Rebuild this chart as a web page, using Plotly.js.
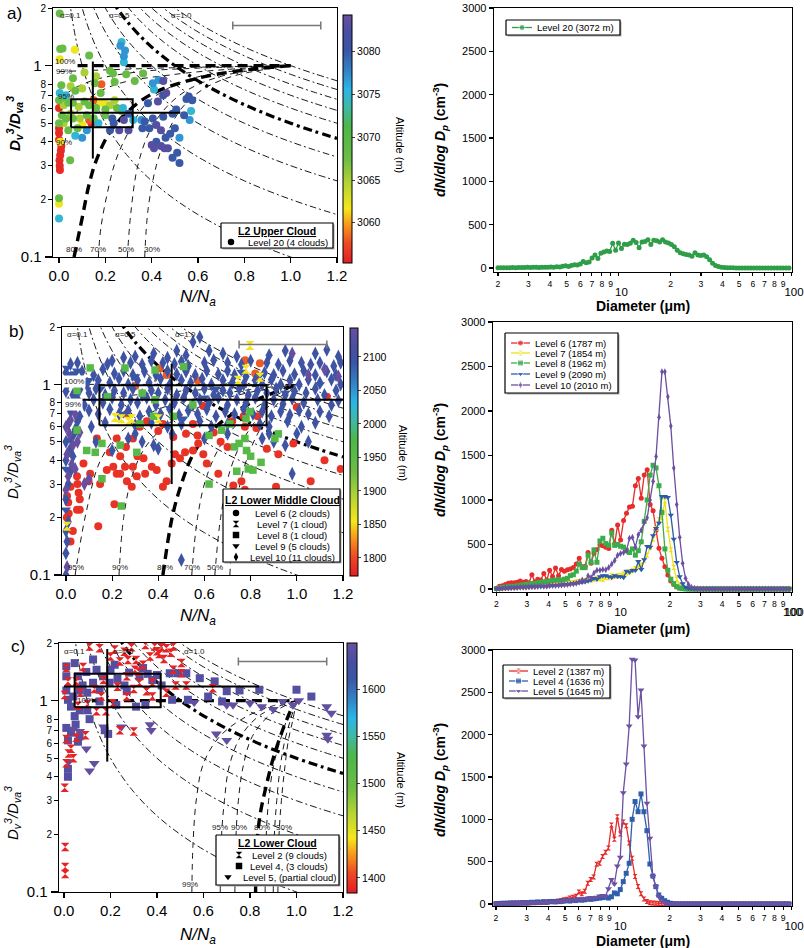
<!DOCTYPE html>
<html><head><meta charset="utf-8">
<script src="https://cdn.plot.ly/plotly-3.0.1.min.js"></script>
<style>body{margin:0;background:#fff}#chart{width:804px;height:948px}</style>
</head><body><div id="chart"></div>
<script>
// ================= SIZE DISTRIBUTIONS (right panels) =================
const diameter = [2.00,2.08,2.16,2.25,2.34,2.43,2.53,2.63,2.74,2.85,
  2.96,3.08,3.20,3.33,3.46,3.60,3.75,3.90,4.05,4.21,
  4.38,4.56,4.74,4.93,5.13,5.33,5.55,5.77,6.00,6.24,
  6.49,6.75,7.02,7.30,7.59,7.90,8.21,8.54,8.88,9.24,
  9.61,9.99,10.39,10.81,11.24,11.69,12.16,12.64,13.15,13.67,
  14.22,14.79,15.38,16.00,16.64,17.30,17.99,18.71,19.46,20.24,
  21.05,21.89,22.77,23.68,24.62,25.61,26.63,27.70,28.81,29.96,
  31.16,32.40,33.70,35.05,36.45,37.91,39.42,41.00,42.64,44.35,
  46.12,47.97,49.89,51.88,53.96,56.12,58.36,60.70,63.12,65.65,
  68.27,71.00,73.84,76.80,79.87,83.07,86.39,89.85,93.44,97.18];
const level20 = [2,3,2,4,3,5,4,6,5,6, 8,6,9,10,7,9,8,10,12,9, 15,12,20,25,18,30,38,35,45,75,
  60,70,115,150,110,170,185,195,190,285, 205,290,225,275,270,285,320,295,235,300,
  305,325,270,320,315,300,325,300,290,270, 245,205,175,165,155,150,135,175,150,145,
  150,130,95,55,30,18,10,5,3,2, 2,1,1,1,1,0,0,0,0,0, 0,0,0,0,0,0,0,0,0,0];
const level6 = [5,30,35,50,65,70,70,75,90,75, 85,70,160,80,110,100,175,100,210,140,
  235,150,220,200,215,225,240,280,345,250, 255,410,290,400,440,495,485,470,455,660,
  510,720,550,770,850,920,930,1160,1240,1020, 1280,1340,950,880,660,457,345,250,157,90,
  50,25,12,5,2,1,0,0,0,0, 0,0,0,0,0,0,0,0,0,0, 0,0,0,0,0,0,0,0,0,0, 0,0,0,0,0,0,0,0,0,0];
const level7 = [2,8,10,12,15,18,20,22,25,25, 28,30,32,35,38,40,42,45,48,50,
  55,52,60,58,65,70,72,80,85,90, 95,100,105,110,120,115,110,130,125,150,
  140,150,155,170,180,190,210,230,250,270, 320,380,470,560,680,780,800,990,670,440,
  240,110,40,15,5,2,0,0,0,0, 0,0,0,0,0,0,0,0,0,0, 0,0,0,0,0,0,0,0,0,0, 0,0,0,0,0,0,0,0,0,0];
const level8 = [5,10,15,20,25,30,28,35,40,45, 50,55,60,58,70,75,80,85,90,95,
  100,105,100,110,120,150,160,200,280,240, 240,380,300,440,300,540,570,510,490,630,
  490,500,480,470,430,410,450,380,430,530, 760,1000,1280,1390,1360,1160,860,450,210,110,
  60,25,10,4,1,0,0,0,0,0, 0,0,0,0,0,0,0,0,0,0, 0,0,0,0,0,0,0,0,0,0, 0,0,0,0,0,0,0,0,0,0];
const level9 = [2,5,8,10,10,12,15,15,18,20, 20,22,25,25,28,30,30,32,35,38,
  40,42,45,48,50,55,60,65,70,75, 80,90,100,120,110,140,150,150,140,130,
  150,140,140,130,200,190,210,210,310,220, 330,480,470,600,680,740,1040,1040,1030,830,
  560,300,140,60,20,8,3,1,0,0, 0,0,0,0,0,0,0,0,0,0, 0,0,0,0,0,0,0,0,0,0, 0,0,0,0,0,0,0,0,0,0];
const level10 = [3,5,8,10,12,14,15,16,18,20, 20,22,25,25,28,30,30,32,35,38,
  40,42,45,48,50,55,60,65,80,100, 90,150,130,180,210,210,220,215,240,280,
  320,380,400,410,430,570,580,470,610,660, 750,800,1000,1210,1490,1930,2440,2440,2160,1830,
  1360,950,580,290,120,50,20,8,3,1, 0,0,0,0,0,0,0,0,0,0, 0,0,0,0,0,0,0,0,0,0, 0,0,0,0,0,0,0,0,0,0];
const level2 = [3,5,5,8,6,10,8,12,10,12, 15,12,18,15,20,18,22,20,25,28,
  30,35,40,50,55,70,80,90,140,120, 150,245,290,320,470,480,560,610,660,933,
  764,1031,827,968,925,720,540,323,205,120, 60,30,15,10,8,5,3,2,1,0,
  0,0,0,0,0,0,0,0,0,0, 0,0,0,0,0,0,0,0,0,0, 0,0,0,0,0,0,0,0,0,0, 0,0,0,0,0,0,0,0,0,0];
const level4 = [2,5,8,6,10,8,12,10,12,15, 12,15,20,18,22,20,25,22,28,30,
  25,28,30,35,40,35,45,40,50,45, 50,60,55,60,65,70,75,80,70,85,
  130,120,170,264,362,480,1000,1210,1090,1300, 1090,866,472,330,205,106,67,39,20,8,
  3,1,0,0,0,0,0,0,0,0, 0,0,0,0,0,0,0,0,0,0, 0,0,0,0,0,0,0,0,0,0, 0,0,0,0,0,0,0,0,0,0];
const level5 = [3,4,5,6,7,8,9,10,10,12, 12,14,15,16,17,18,20,20,22,25,
  25,28,30,35,45,40,50,45,60,55, 65,60,75,70,80,95,100,90,180,290,
  236,449,551,1315,1654,2102,2890,2882,2212,2527, 1866,1189,775,323,205,87,40,15,5,2,
  0,0,0,0,0,0,0,0,0,0, 0,0,0,0,0,0,0,0,0,0, 0,0,0,0,0,0,0,0,0,0, 0,0,0,0,0,0,0,0,0,0];

// ================= MIXING DIAGRAMS (left panels): [N/Na, Dv3/Dva3] =================
// Panel a, Level 20, grouped by altitude (m)
const upperAlt = [3056,3058,3062,3065,3068,3075,3077,3080,3083];
const upper3056 = [[0,0.6],[0.14,0.5],[0,0.47],[0.008,0.36],[0.005,0.34],[0.003,0.30],[0.004,0.285],[0,0.41],[0.01,0.38],[0,0.445],[0.002,0.32]];
const upper3058 = [[0.183,0.80],[0.15,0.66],[0.13,0.52]];
const upper3062 = [[0.068,1.21],[0.003,1.08],[0.18,0.64],[0.1,0.49],[0.005,0.4],[0,0.19],[0.2,0.63]];
const upper3065 = [[0.11,0.92],[0.1,0.76],[0.05,0.78],[0.02,0.62],[0.05,0.56],[0.085,0.61],[0.22,0.62],[0.09,0.53],[0.02,0.5],[0.16,0.88],[0.24,0.66]];
const upper3068 = [[0.003,1.87],[0.005,1.22],[0.015,1.23],[0.13,1.13],[0.155,0.81],[0.233,0.91],[0.24,0.82],[0.327,0.83],[0.363,0.91],[0.29,0.9],[0.22,0.94],[0.06,0.86],[0.01,0.79],[0.07,0.74],[0.015,0.68],[0.04,0.64],[0,0.66],[0.012,0.55],[0.03,0.53],[0,0.5],[0.06,0.64],[0.11,0.65],[0.13,0.62],[0.16,0.6],[0.2,0.59],[0.25,0.6],[0.27,0.58],[0.12,0.55],[0.15,0.53],[0.06,0.53],[0.2,0.55],[0.08,0.47],[0.04,0.46],[0.18,0.72],[0.048,0.32],[0,0.203]];
const upper3075 = [[0.27,1.33],[0.28,1.04],[0.41,0.75],[0.003,0.72],[0.17,0.5],[0.276,0.6],[0.32,0.52],[0.57,0.58],[0,0.159],[0.03,0.7],[0.07,0.43]];
const upper3077 = [[0.285,1.2],[0.28,1.12],[0.265,1.27],[0.405,0.81],[0.43,0.84],[0.12,0.46],[0.1,0.42],[0.355,0.52],[0.564,0.52],[0.52,0.42]];
const upper3080 = [[0.22,0.46],[0.236,0.5],[0.3,0.56],[0.23,0.53],[0.384,0.635],[0.45,0.7],[0.506,0.59],[0.55,0.67],[0.56,0.69],[0.575,0.66],[0.54,0.55],[0.49,0.56],[0.45,0.54],[0.405,0.53],[0.37,0.51],[0.39,0.47],[0.49,0.33],[0.52,0.31],[0.51,0.35],[0.42,0.4],[0.48,0.44],[0.5,0.47],[0.36,0.47],[0.46,0.42]];
const upper3083 = [[0.26,0.46],[0.3,0.46],[0.28,0.52],[0.427,0.65],[0.463,0.72],[0.45,0.83],[0.42,0.49],[0.44,0.46],[0.44,0.38],[0.455,0.37],[0.47,0.37],[0.40,0.385],[0.41,0.37]];
const upperGroups = [upper3056,upper3058,upper3062,upper3065,upper3068,upper3075,upper3077,upper3080,upper3083];

// Panel b: Level 6 (red + orange), 7, 8, 9, 10
const midAlt = {l6:1787, l6b:1808, l7:1854, l8:1962, l9:2090, l10:2100, l10b:2140};
const midL6 = [[0.134,0.52],[0.22,0.52],[0.29,0.52],[0.32,0.60],[0.40,0.57],[0.465,0.53],[0.52,0.55],[0.57,0.54],[0.64,0.56],[0.72,0.64],[0.775,0.60],[0.825,0.59],[1.13,0.86],[1.19,0.36],[0.048,0.33],[0.05,0.30],[0.055,0.27],[0.06,0.25],[0.048,0.22],[0.012,0.21],[0.004,0.20],[0.02,0.15],[0.14,0.18],[0.06,0.22],[0.105,0.34],[0.098,0.31],[0.148,0.30],[0.205,0.37],[0.22,0.34],[0.235,0.34],[0.256,0.37],[0.264,0.31],[0.285,0.29],[0.29,0.37],[0.307,0.33],[0.336,0.41],[0.343,0.34],[0.372,0.37],[0.393,0.355],[0.42,0.29],[0.436,0.31],[0.458,0.385],[0.472,0.43],[0.494,0.41],[0.516,0.44],[0.55,0.45],[0.573,0.49],[0.595,0.43],[0.61,0.385],[0.66,0.34],[0.725,0.295],[0.76,0.31],[0.775,0.28],[0.825,0.257],[0.91,0.29],[0.985,0.49],[1.06,0.31],[1.12,0.40],[0.076,0.385],[0.177,0.355],[0.19,0.44],[0.235,0.42],[0.26,0.47],[0.31,0.42],[0.21,0.235],[1.0,0.76],[0.83,0.68],[0.77,0.68],[0.595,0.77],[0.263,0.70],[0.35,0.64],[0.42,0.62],[0.55,0.62],[0.005,0.26],[0.01,0.24],[0.02,0.29],[0.92,0.43],[0.87,0.46],[0.7,0.47],[0.67,0.5],[0.03,0.17]];
const midL6b = [[0.407,1.21],[0.436,1.12],[0.776,1.34],[0.84,1.29],[0.82,1.14],[0.57,1.05],[0.3,0.98]];
const midL7 = [[0.797,1.6],[0.746,1.05],[0.84,1.09],[0.78,1.2],[0.213,0.67],[0.24,0.66],[0.285,0.66],[0.40,0.66],[0.004,0.18],[0.27,0.64]];
const midL8 = [[0.048,0.575],[0.09,0.45],[0.127,0.44],[0.156,0.49],[0.156,0.32],[0.235,0.48],[0.24,0.23],[0.307,0.44],[0.32,0.62],[0.386,0.83],[0.386,1.19],[0.256,1.22],[0.105,1.22],[0.62,0.54],[0.62,0.30],[0.674,0.575],[0.73,0.47],[0.75,0.49],[0.775,0.52],[0.782,0.45],[0.79,0.36],[0.74,0.35],[0.80,0.42],[0.845,0.39],[0.81,0.355],[0.905,0.52],[0.92,0.55],[0.78,0.66],[0.797,0.72],[0.38,0.68],[0.465,0.68],[0.71,0.62],[0.51,1.24],[0.048,0.93],[0.33,0.9],[0.55,0.78],[0.18,0.86]];
const midL9 = [[0.048,1.18],[0.004,1.22],[0.012,1.03],[0.039,1.14],[0.02,1.13],[0.508,0.66],[0.84,1.12],[0.76,1.16],[0.248,0.70],[0,0.22],[0.1,1.05],[0.3,1.1],[0.65,0.95],[0.95,0.9],[1.1,1.0],[0.45,0.75],[0.6,0.85],[0.72,1.0],[0,0.36],[0.15,0.95]];
const midL10 = [[0.38,1.45],[0.48,1.5],[0.52,1.42],[0.55,1.67],[0.58,1.77],[0.62,1.5],[0.68,1.45],[0.74,1.4],[0.88,1.42],[0.95,1.5],[1.08,1.45],[1.13,1.52],[1.18,1.4],[0.25,1.38],[0.3,1.4],[0.44,1.38],
 [0.02,1.28],[0.05,1.3],[0.18,1.28],[0.2,1.33],[0.28,1.3],[0.33,1.27],[0.37,1.33],[0.42,1.3],[0.47,1.28],[0.5,1.32],[0.53,1.25],[0.6,1.3],[0.64,1.34],[0.7,1.3],[0.76,1.27],[0.8,1.33],[0.87,1.3],[0.92,1.27],[0.97,1.33],[1.02,1.3],[1.06,1.27],[1.1,1.3],[1.16,1.25],[1.19,1.3],
 [0,1.15],[0.07,1.17],[0.12,1.12],[0.16,1.2],[0.21,1.14],[0.25,1.18],[0.29,1.12],[0.34,1.17],[0.39,1.12],[0.44,1.18],[0.48,1.13],[0.52,1.17],[0.56,1.12],[0.61,1.18],[0.66,1.13],[0.7,1.18],[0.73,1.12],[0.78,1.1],[0.86,1.15],[0.9,1.12],[0.94,1.18],[0.99,1.13],[1.03,1.18],[1.08,1.12],[1.13,1.17],[1.17,1.12],
 [0.01,1.02],[0.04,1.06],[0.09,1.0],[0.14,1.05],[0.19,1.02],[0.23,1.07],[0.27,1.0],[0.31,1.05],[0.36,1.02],[0.41,1.07],[0.45,1.0],[0.5,1.05],[0.54,1.02],[0.59,1.07],[0.63,1.0],[0.68,1.05],[0.72,1.02],[0.77,1.0],[0.82,1.05],[0.85,1.0],[0.89,1.06],[0.93,1.0],[0.97,1.05],[1.01,1.0],[1.05,1.06],[1.1,1.02],[1.15,1.06],[1.19,1.0],
 [0,0.92],[0.03,0.88],[0.06,0.94],[0.1,0.9],[0.13,0.95],[0.17,0.88],[0.21,0.93],[0.25,0.9],[0.29,0.95],[0.33,0.88],[0.37,0.93],[0.4,0.9],[0.44,0.95],[0.48,0.88],[0.52,0.93],[0.56,0.9],[0.6,0.95],[0.64,0.88],[0.68,0.93],[0.71,0.9],[0.75,0.95],[0.79,0.88],[0.83,0.93],[0.87,0.9],[0.91,0.95],[0.95,0.88],[0.99,0.92],[1.04,0.9],[1.08,0.95],[1.12,0.88],[1.17,0.93],
 [0.01,0.8],[0.05,0.84],[0.08,0.78],[0.12,0.83],[0.16,0.8],[0.2,0.85],[0.24,0.78],[0.28,0.83],[0.31,0.8],[0.35,0.85],[0.39,0.78],[0.43,0.83],[0.47,0.8],[0.51,0.85],[0.55,0.78],[0.58,0.83],[0.62,0.8],[0.66,0.85],[0.7,0.78],[0.74,0.83],[0.78,0.8],[0.82,0.85],[0.86,0.78],[0.9,0.83],[0.94,0.79],[0.98,0.84],[1.03,0.8],[1.09,0.83],[1.15,0.78],[1.18,0.82],
 [0.02,0.72],[0.06,0.68],[0.1,0.73],[0.14,0.7],[0.19,0.74],[0.23,0.7],[0.27,0.73],[0.32,0.68],[0.36,0.72],[0.41,0.7],[0.45,0.74],[0.49,0.69],[0.53,0.73],[0.57,0.7],[0.61,0.74],[0.65,0.68],[0.69,0.72],[0.73,0.7],[0.77,0.74],[0.81,0.7],[0.85,0.72],[0.89,0.68],[0.93,0.72],[0.97,0.69],[1.01,0.73],[1.05,0.7],[1.1,0.72],[1.14,0.68],
 [0.01,0.62],[0.05,0.64],[0.11,0.6],[0.17,0.63],[0.3,0.61],[0.37,0.63],[0.44,0.6],[0.5,0.62],[0.58,0.64],[0.63,0.6],[0.7,0.62],[0.84,0.62],[0.88,0.6],[0.96,0.64],[1.02,0.6],[1.08,0.63],
 [0.13,0.5],[0.2,0.45],[0.27,0.52],[0.38,0.48],[0.6,0.52],[0.85,0.52],[0.88,0.55],[0.9,0.5],[0.95,0.48],[1.0,0.55],[1.05,0.5],[0.98,0.34],[0.5,0.12],[0.3,0.55],[0.33,0.5],[0.4,0.46],[0.46,0.55],[0.7,0.55],
 [0,0.1],[0,0.13],[0.005,0.15],[0,0.17],[0.01,0.19],[0,0.25],[0.01,0.3],[0.02,0.35],[0,0.4],[0.03,0.42],[0.015,0.45],[0,0.5],[0.02,0.52],[0.035,0.55],[0.04,0.58]];
const midL10b = [[0.005,0.11],[0,0.28],[0.01,0.33],[0.025,0.38],[0.005,0.43],[0.03,0.48],[0.015,0.55],[0.05,0.5],[0.06,0.56],[0.1,0.32],[0.08,0.3],[0.04,0.36],[1.05,1.12],[1.12,1.2],[1.18,1.1],[0.98,1.45],[0,0.6],[0.02,0.65],[0.04,0.7]];

// Panel c: Levels 2, 4, 5
const lowAlt = {l2:1387, l4:1636, l5:1645};
const lowL2 = [[0.11,1.92],[0.153,1.88],[0.218,1.85],[0.26,1.8],[0.275,1.63],[0.31,1.63],[0.34,1.54],[0.37,1.70],[0.39,1.92],[0.40,1.81],[0.41,1.75],[0.42,1.9],[0.44,1.88],[0.47,1.92],[0.46,1.78],[0.505,1.57],[0.505,1.39],[0.305,1.45],[0.32,1.42],[0.27,1.34],[0.23,1.18],[0.17,1.28],[0.21,0.97],[0.325,1.24],[0.355,1.12],[0.38,1.24],[0.017,1.26],[0.003,1.07],[0.01,1.48],[0.082,1.5],[0.053,1.26],[0.06,0.94],[0.1,0.96],[0.14,0.88],[0.18,0.88],[0.27,1.05],[0.3,0.69],[0.053,0.64],[0.01,0.63],[0.092,0.66],[0.02,0.53],[0.01,0.47],[0.003,0.35],[0.005,0.172],[0.005,0.135],[0.005,0.124],[0.64,1.16],[0.526,1.2],[0.47,1.45],[0.2,1.7],[0.24,1.6],[0.29,1.9],[0.35,1.95],[0.43,1.65],[0.48,1.2],[0.44,1.1],[0.38,1.05],[0.3,1.15],[0.13,1.15],[0.07,1.1],[0.16,1.05],[0.03,0.56],[0.04,0.5],[0.24,0.7]];
const lowL4 = [[0.01,1.51],[0.046,1.57],[0.01,1.34],[0.06,1.34],[0.096,1.41],[0.125,1.64],[0.168,1.34],[0.218,1.54],[0.196,1.24],[0.125,1.24],[0.067,1.13],[0.01,1.13],[0.017,1.01],[0.03,0.93],[0.046,0.83],[0.067,0.89],[0.1,0.89],[0.1,1.1],[0.153,1.14],[0.153,0.99],[0.27,1.12],[0.325,1.34],[0.34,1.48],[0.4,1.36],[0.455,1.39],[0.49,1.39],[0.526,1.39],[0.584,1.31],[0.648,1.26],[0.7,1.12],[0.755,1.13],[0.84,1.14],[1.0,1.14],[1.064,1.05],[0.465,1.01],[0.533,1.01],[0.31,0.93],[0.225,0.95],[0.01,0.72],[0.017,0.62],[0.06,0.61],[0.017,0.44],[0.017,0.40],[0.067,0.65],[0.19,0.67],[0.175,0.70],[0.2,1.45],[0.23,1.3],[0.28,1.4],[0.38,1.28],[0.42,1.2],[0.36,1.38],[0.26,1.2],[0.14,1.45],[0.08,1.2],[0.04,1.05],[0.11,0.8],[0.35,0.95],[0.62,1.05],[0.68,0.99],[0.05,0.75],[0.03,0.68]];
const lowL5 = [[0.067,0.69],[0.096,0.56],[0.11,0.43],[0.13,0.47],[0.247,0.73],[0.37,0.75],[0.375,0.7],[0.655,0.67],[0.70,0.62],[0.70,0.95],[0.727,0.95],[0.94,0.99],[0.985,0.95],[1.01,1.0],[1.13,0.93],[1.15,0.86],[1.13,0.66],[1.135,0.63],[0.56,0.98],[0.8,0.97],[0.85,0.93],[0.9,0.9],[0.04,0.71],[0.17,0.73],[0.02,0.48]];

// Mean box (25-75%) and cross (mean +/- sd) per panel
const boxUpper = [0.052,0.318,0.476,0.667], crossUpper = [0.146,0.327,1.05,0.568,0.004,0.523];
const boxMid   = [0.145,0.869,0.61,0.99],   crossMid   = [0.458,0.30,1.28,0.83,0,1.2];
const boxLow   = [0.046,0.416,0.924,1.38],  crossLow   = [0.186,0.48,1.86,1.186,0,0.839];
const errUpper = [0.94,1.62,0.19], errMid = [0.94,1.62,0.19], errLow = [0.94,1.60,0.19];

// Adiabatic-fraction isolines (alpha = N/Na * Dv3/Dva3)
const alphaLines = [0.1,0.2,0.3,0.4,0.5,0.6,0.7,0.8,0.9,1.0];
const alphaThick = 0.5;
const alphaX = [0.045,0.05,0.055,0.06,0.065,0.07,0.08,0.09,0.1,0.11,0.12,0.14,0.16,0.18,0.2,0.22,0.25,0.28,0.3,0.35,0.4,0.45,0.5,0.55,0.6,0.7,0.8,0.9,1.0,1.1,1.2];

// Homogeneous mixing curves for entrained-air RH
const homRH = ['100%','99%','95%','90%','80%','70%','50%','30%'];
const homUpperX = [[0.08,1.0],[0,0.2,0.5,1.0],[0,0.05,0.15,0.35,0.6,1.0],[0.005,0.05,0.12,0.25,0.5,0.75,1.0],[0.065,0.10,0.13,0.165,0.22,0.3,0.4,0.55,0.75,1.0],[0.17,0.18,0.21,0.245,0.3,0.37,0.47,0.61,0.8,1.0],[0.295,0.31,0.34,0.39,0.46,0.55,0.7,1.0],[0.37,0.385,0.42,0.47,0.53,0.62,0.75,1.0]];
const homUpperY = [[1,1],[0.93,0.95,0.975,1.0],[0.65,0.74,0.84,0.93,0.97,1.0],[0.3,0.5,0.66,0.8,0.9,0.96,1.0],[0.1,0.16,0.24,0.33,0.45,0.58,0.71,0.83,0.93,1.0],[0.1,0.14,0.22,0.32,0.45,0.62,0.76,0.88,0.95,1.0],[0.1,0.17,0.3,0.45,0.6,0.74,0.88,1.0],[0.1,0.18,0.3,0.45,0.6,0.75,0.88,1.0]];
const homMidX = [[0,1.0],[0,0.3,0.6,1.0],[0.04,0.05,0.09,0.15,0.25,0.4,0.6,0.8,1.0],[0.23,0.25,0.29,0.35,0.45,0.6,0.8,1.0],[0.42,0.46,0.5,0.56,0.65,0.8,1.0],[0.545,0.57,0.61,0.68,0.8,1.0],[0.645,0.67,0.71,0.77,0.87,1.0],[0.71,0.73,0.77,0.83,0.9,1.0]];
const homMidY = [[1,1],[0.8,0.88,0.94,1.0],[0.1,0.12,0.22,0.4,0.58,0.74,0.86,0.94,1.0],[0.1,0.2,0.34,0.48,0.63,0.78,0.91,1.0],[0.1,0.2,0.3,0.45,0.6,0.8,1.0],[0.1,0.2,0.33,0.5,0.72,1.0],[0.1,0.2,0.35,0.52,0.75,1.0],[0.1,0.2,0.36,0.55,0.75,1.0]];
const homLowX = [[0.12,0.97],[0.55,0.555,0.57,0.6,0.67,0.78,0.9,1.0],[0.672,0.678,0.69,0.71,0.76,0.85,1.0],[0.735,0.74,0.75,0.77,0.81,0.89,1.0],[0.824,0.83,0.845,0.87,0.9,0.94,0.985],[0.865,0.87,0.88,0.9,0.93,0.96,1.0],[0.9,0.905,0.915,0.93,0.95,0.975,1.0],[0.92,0.925,0.935,0.95,0.965,0.985,1.0]];
const homLowY = [[1,1],[0.1,0.18,0.31,0.47,0.65,0.82,0.94,1.0],[0.1,0.2,0.3,0.45,0.65,0.85,1.0],[0.1,0.2,0.3,0.45,0.65,0.85,1.0],[0.1,0.18,0.26,0.36,0.5,0.7,0.95],[0.1,0.2,0.3,0.45,0.62,0.8,1.0],[0.1,0.2,0.3,0.45,0.62,0.8,1.0],[0.1,0.2,0.3,0.45,0.62,0.8,1.0]];

// Tick labels
const xTickVals = [0,0.2,0.4,0.6,0.8,1.0,1.2];
const xTickText = ['0.0','0.2','0.4','0.6','0.8','1.0','1.2'];
const yMajorVals = [0.1,1], yMajorText = ['0.1','1'];
const yMinorVals = [0.2,0.3,0.4,0.5,0.6,0.7,0.8,2], yMinorText = ['2','3','4','5','6','7','8','2'];
const sdTickVals = [0,500,1000,1500,2000,2500,3000];

// ================= BUILD =================
const FONT = 'Liberation Sans, Arial, Helvetica, sans-serif';
const W = 804, H = 948;
const xd = (l,r)=>[l/W, r/W];
const yd = (t,b)=>[1-b/H, 1-t/H];
const traces = [], ann = [];
const CS = [[0,'#e31d25'],[0.08,'#ee4a24'],[0.15,'#f7941d'],[0.22,'#f5e71c'],[0.32,'#b5d334'],[0.42,'#6cbd45'],[0.55,'#4db749'],[0.63,'#3fb9a6'],[0.7,'#2bb5e8'],[0.78,'#3380c4'],[0.86,'#3a55a4'],[0.93,'#4a4fa2'],[1,'#6a4f9f']];

function alphaTraces(xa, ya){
  alphaLines.forEach(a=>{
    const xs=[], ys=[];
    alphaX.forEach(x=>{ const y=a/x; if(y<=4){xs.push(x); ys.push(y);} });
    const th = a===alphaThick;
    traces.push({x:xs,y:ys,xaxis:xa,yaxis:ya,mode:'lines',hoverinfo:'skip',
      line:{color:'#000',width:th?3.2:0.9,dash:th?'9px,4px,3px,4px':'7px,3px,2px,3px',shape:'spline'}});
  });
}
function homTraces(X,Y,thick,xa,ya){
  X.forEach((xs,i)=>{
    const th = thick.includes(homRH[i]);
    traces.push({x:xs,y:Y[i],xaxis:xa,yaxis:ya,mode:'lines',hoverinfo:'skip',
      line:{color:'#000',width:th?3.4:0.9,dash:th?'10px,6px':'6px,5px',shape:'spline'}});
  });
}
function pts(arr, alt, sym, size, xa, ya, ca){
  traces.push({x:arr.map(p=>p[0]), y:arr.map(p=>p[1]), xaxis:xa, yaxis:ya, mode:'markers', hoverinfo:'skip',
    marker:{symbol:sym, size:size, color:arr.map(()=>alt), coloraxis:ca, line:{width:0}}});
}
function boxCross(b,c,e,xa,ya){
  traces.push({x:[b[0],b[1],b[1],b[0],b[0]],y:[b[2],b[2],b[3],b[3],b[2]],xaxis:xa,yaxis:ya,mode:'lines',line:{color:'#000',width:2},hoverinfo:'skip'});
  traces.push({x:[c[0],c[0]],y:[c[1],c[2]],xaxis:xa,yaxis:ya,mode:'lines',line:{color:'#000',width:2},hoverinfo:'skip'});
  traces.push({x:[c[4],c[5]],y:[c[3],c[3]],xaxis:xa,yaxis:ya,mode:'lines',line:{color:'#000',width:2},hoverinfo:'skip'});
  traces.push({x:[e[0]],y:[e[1]],xaxis:xa,yaxis:ya,mode:'markers',marker:{size:1,color:'rgba(0,0,0,0)'},
    error_x:{type:'constant',value:e[2],color:'#777',thickness:1.5,width:4},hoverinfo:'skip'});
}
function lab(t,x,y,xa,ya,extra){
  ann.push(Object.assign({text:t,x:x,y:Math.log10(y),xref:xa,yref:ya,showarrow:false,font:{size:8,family:FONT,color:'#222'},xanchor:'center',yanchor:'middle'},extra||{}));
}
function sd(vals,color,sym,size,xa,ya){
  traces.push({x:diameter,y:vals,xaxis:xa,yaxis:ya,mode:'lines+markers',hoverinfo:'skip',
    line:{color:color,width:1.3},marker:{color:color,symbol:sym,size:size,line:{width:0}}});
}

// ---- Panel a left
alphaTraces('x','y');
homTraces(homUpperX,homUpperY,['100%','80%'],'x','y');
upperGroups.forEach((g,i)=>pts(g,upperAlt[i],'circle',8,'x','y','coloraxis'));
boxCross(boxUpper,crossUpper,errUpper,'x','y');
traces.push({x:[null],y:[null],xaxis:'x',yaxis:'y7',mode:'markers',hoverinfo:'skip'});
lab('α=0.1',0.05,1.83,'x','y'); lab('α=0.5',0.26,1.83,'x','y'); lab('α=1.0',0.53,1.83,'x','y');
lab('100%',0.025,1.045,'x','y'); lab('99%',0.02,0.935,'x','y'); lab('95%',0.03,0.69,'x','y'); lab('90%',0.02,0.395,'x','y');
lab('80%',0.065,0.109,'x','y'); lab('70%',0.17,0.109,'x','y'); lab('50%',0.29,0.109,'x','y'); lab('30%',0.40,0.109,'x','y');

// ---- Panel b left
alphaTraces('x3','y3');
homTraces(homMidX,homMidY,['80%'],'x3','y3');
pts(midL6,midAlt.l6,'circle',8,'x3','y3','coloraxis2');
pts(midL6b,midAlt.l6b,'circle',8,'x3','y3','coloraxis2');
pts(midL10,midAlt.l10,'diamond-tall',10,'x3','y3','coloraxis2');
pts(midL10b,midAlt.l10b,'diamond-tall',10,'x3','y3','coloraxis2');
pts(midL8,midAlt.l8,'square',7.5,'x3','y3','coloraxis2');
pts(midL9,midAlt.l9,'triangle-down',9,'x3','y3','coloraxis2');
pts(midL7,midAlt.l7,'hourglass',9,'x3','y3','coloraxis2');
boxCross(boxMid,crossMid,errMid,'x3','y3');
traces.push({x:[null],y:[null],xaxis:'x3',yaxis:'y8',mode:'markers',hoverinfo:'skip'});
lab('α=0.1',0.048,1.82,'x3','y3'); lab('α=0.5',0.26,1.82,'x3','y3'); lab('α=1.0',0.52,1.82,'x3','y3');
lab('100%',0.035,1.04,'x3','y3',{bgcolor:'#fff'}); lab('99%',0.03,0.78,'x3','y3',{bgcolor:'#fff'});
lab('95%',0.045,0.11,'x3','y3'); lab('90%',0.233,0.11,'x3','y3'); lab('80%',0.43,0.11,'x3','y3'); lab('70%',0.545,0.11,'x3','y3'); lab('50%',0.645,0.11,'x3','y3');

// ---- Panel c left
alphaTraces('x5','y5');
homTraces(homLowX,homLowY,['100%','80%'],'x5','y5');
pts(lowL4,lowAlt.l4,'square',8,'x5','y5','coloraxis3');
pts(lowL5,lowAlt.l5,'triangle-down',9.5,'x5','y5','coloraxis3');
pts(lowL2,lowAlt.l2,'hourglass',8.5,'x5','y5','coloraxis3');
boxCross(boxLow,crossLow,errLow,'x5','y5');
traces.push({x:[null],y:[null],xaxis:'x5',yaxis:'y9',mode:'markers',hoverinfo:'skip'});
lab('α=0.1',0.046,1.81,'x5','y5'); lab('α=0.5',0.257,1.81,'x5','y5'); lab('α=1.0',0.562,1.81,'x5','y5');
lab('100%',0.1,1.0,'x5','y5'); lab('95%',0.67,0.217,'x5','y5'); lab('90%',0.753,0.217,'x5','y5'); lab('80%',0.853,0.217,'x5','y5'); lab('30%',0.945,0.217,'x5','y5'); lab('99%',0.543,0.11,'x5','y5');

// ---- Right panels
const C = {l20:'#2e9e48',l6:'#e82c2a',l7:'#efe01a',l8:'#3cac4a',l9:'#2d5ba8',l10:'#6b4fa0',l2:'#e62b2b',l4:'#2f5eac',l5:'#6c52a3'};
sd(level20,C.l20,'circle',5,'x2','y2');
sd(level6,C.l6,'circle',5,'x4','y4');
sd(level7,C.l7,'hourglass',5,'x4','y4');
sd(level8,C.l8,'square',5,'x4','y4');
sd(level9,C.l9,'triangle-down',5.5,'x4','y4');
sd(level10,C.l10,'diamond-tall',5,'x4','y4');
sd(level2,C.l2,'hourglass',5,'x6','y6');
sd(level4,C.l4,'square',5,'x6','y6');
sd(level5,C.l5,'triangle-down',6,'x6','y6');

// ---- Custom legends on a page-pixel overlay axis (x7/y10)
function legBox(l,r,t,b){
  traces.push({x:[l+1.5,r+1.5,r+1.5,l+1.5,l+1.5],y:[t+1.5,t+1.5,b+1.5,b+1.5,t+1.5],xaxis:'x7',yaxis:'y10',mode:'lines',fill:'toself',fillcolor:'#aaa',line:{width:0},hoverinfo:'skip'});
  traces.push({x:[l,r,r,l,l],y:[t,t,b,b,t],xaxis:'x7',yaxis:'y10',mode:'lines',fill:'toself',fillcolor:'#fff',line:{color:'#000',width:1.2},hoverinfo:'skip'});
}
function pAnn(t,x,y,o){ ann.push(Object.assign({text:t,x:x,y:y,xref:'x7',yref:'y10',showarrow:false,font:{size:9.5,family:FONT,color:'#000'},xanchor:'center',yanchor:'middle'},o||{})); }
function legMarker(x,y,sym,size){ traces.push({x:[x],y:[y],xaxis:'x7',yaxis:'y10',mode:'markers',marker:{symbol:sym,size:size,color:'#000'},hoverinfo:'skip'}); }
function legLine(x1,x2,y,color,sym,size){ traces.push({x:[x1,(x1+x2)/2,x2],y:[y,y,y],xaxis:'x7',yaxis:'y10',mode:'lines+markers',line:{color:color,width:1.3},marker:{symbol:sym,size:[0,size,0],color:color},hoverinfo:'skip'}); }
const TITLEF = {size:10.5,family:FONT,color:'#000'};

legBox(221,333,223,248);
pAnn('<b><u>L2 Upper Cloud</u></b>',277,231,{font:TITLEF});
legMarker(231,242,'circle',6.5); pAnn('Level 20 (4 clouds)',288,242);

legBox(223,340,489,562);
pAnn('<b><u>L2 Lower Middle Cloud</u></b>',282,500,{font:TITLEF});
[['circle','Level 6 (2 clouds)'],['hourglass','Level 7 (1 cloud)'],['square','Level 8 (1 cloud)'],['triangle-down','Level 9 (5 clouds)'],['diamond-tall','Level 10 (11 clouds)']].forEach((it,i)=>{
  const y=[513,524,535,546,557][i]; legMarker(236,y,it[0],6.5); pAnn(it[1],292,y);
});

legBox(216,339,835,885);
pAnn('<b><u>L2 Lower Cloud</u></b>',277,843,{font:TITLEF});
[['hourglass','Level 2 (9 clouds)',239],['square','Level 4, (3 clouds)',239],['triangle-down','Level 5, (partial cloud)',228]].forEach((it,i)=>{
  const y=[855,866,877][i]; legMarker(it[2],y,it[0],6.5); pAnn(it[1],289,y);
});

legBox(506,620,20,35);
legLine(512,532,27.5,C.l20,'circle',6); pAnn('Level 20 (3072 m)',535,27.5,{xanchor:'left'});

legBox(505,618,333,393);
[[C.l6,'circle','Level 6 (1787 m)'],[C.l7,'hourglass','Level 7 (1854 m)'],[C.l8,'square','Level 8 (1962 m)'],[C.l9,'triangle-down','Level 9 (2090 m)'],[C.l10,'diamond-tall','Level 10 (2010 m)']].forEach((it,i)=>{
  const y=[343,353,363,374,385][i]; legLine(511,530,y,it[0],it[1],6); pAnn(it[2],533,y,{xanchor:'left'});
});

legBox(503,610,665,698);
[[C.l2,'hourglass','Level 2 (1387 m)'],[C.l4,'square','Level 4 (1636 m)'],[C.l5,'triangle-down','Level 5 (1645 m)']].forEach((it,i)=>{
  const y=[671,681,691][i]; legLine(509,528,y,it[0],it[1],6); pAnn(it[2],531,y,{xanchor:'left'});
});

// ---- Titles / labels
pAnn('a)',14,13,{font:{size:17,family:FONT,color:'#000'}});
pAnn('b)',16,331,{font:{size:17,family:FONT,color:'#000'}});
pAnn('c)',18,646,{font:{size:17,family:FONT,color:'#000'}});
const yTitleL = '<i>D<sub>v</sub><sup>3</sup>/D<sub>va</sub><sup>3</sup></i>';
pAnn('<b>'+yTitleL+'</b>',14,124,{textangle:-90,font:{size:15,family:FONT,color:'#000'}});
pAnn(yTitleL,12,472,{textangle:-90,font:{size:15,family:FONT,color:'#000'}});
pAnn(yTitleL,12,813,{textangle:-90,font:{size:15,family:FONT,color:'#000'}});
const xTitleL = '<i>N/N<sub>a</sub></i>';
[298,617,936].forEach(y=>pAnn(xTitleL,198,y,{font:{size:17,family:FONT,color:'#000'}}));
const yTitleR = '<b><i>dN/dlog D<sub>p</sub></i> (cm<sup>-3</sup>)</b>';
[140,460,780].forEach(y=>pAnn(yTitleR,440,y,{textangle:-90,font:{size:14,family:FONT,color:'#000'}}));
[306,629,941].forEach(y=>pAnn('<b>Diameter (μm)</b>',643,y,{font:{size:14,family:FONT,color:'#000'}}));
[[400,145],[403,453],[401,780]].forEach(p=>pAnn('Altitude (m)',p[0],p[1],{textangle:90,font:{size:11,family:FONT,color:'#000'}}));
// end label of panel b diameter axis (the axis's own "100" is not drawn there)
pAnn('100',792,612,{font:{size:11.5,family:FONT,color:'#000'}});

// ---- Axes
const baseAx = {showline:true,linewidth:1.3,linecolor:'#000',mirror:true,showgrid:false,zeroline:false,ticks:'outside',tickcolor:'#000',tickwidth:1.2};
const lx = (dom,anc,lo)=>Object.assign({},baseAx,{domain:dom,anchor:anc,range:[lo,1.2],tickvals:xTickVals,ticktext:xTickText,ticklen:5,tickfont:{size:15,family:FONT,color:'#000'}});
const ly = (dom,anc)=>Object.assign({},baseAx,{domain:dom,anchor:anc,type:'log',range:[-1,Math.log10(2)],tickvals:yMajorVals,ticktext:yMajorText,ticklen:7,tickfont:{size:15,family:FONT,color:'#000'}});
const lyMinor = (over,anc)=>({overlaying:over,anchor:anc,side:'left',type:'log',range:[-1,Math.log10(2)],tickvals:yMinorVals,ticktext:yMinorText,ticks:'outside',ticklen:4,tickcolor:'#000',showline:false,showgrid:false,zeroline:false,tickfont:{size:10,family:FONT,color:'#000'}});
const rx = (dom,anc,lo)=>Object.assign({},baseAx,{domain:dom,anchor:anc,type:'log',range:[lo,2.005],dtick:'D1',ticklen:3,ticklabeloverflow:'allow',tickfont:{size:11.5,family:FONT,color:'#000'}});
const ry = (dom,anc,lo)=>Object.assign({},baseAx,{domain:dom,anchor:anc,range:[lo,3000],tickvals:sdTickVals,ticklen:4,tickfont:{size:11,family:FONT,color:'#000'}});
const cb = (x,thick,t,b,vals)=>({x:x/W,xanchor:'left',y:1-((t+b)/2)/H,yanchor:'middle',len:(b-t)/H,lenmode:'fraction',thickness:thick,thicknessmode:'pixels',xpad:0,ypad:0,outlinewidth:1,outlinecolor:'#000',tickvals:vals,ticks:'outside',ticklen:3,tickfont:{size:10.5,family:FONT,color:'#000'}});

const layout = {
  width:W,height:H,margin:{l:0,r:0,t:0,b:0},paper_bgcolor:'#fff',plot_bgcolor:'rgba(0,0,0,0)',showlegend:false,
  font:{family:FONT,color:'#000'},
  xaxis: lx(xd(53,337),'y',-0.026),  yaxis: ly(yd(8,257),'x'),
  xaxis3:lx(xd(62,343),'y3',-0.017), yaxis3:ly(yd(327,575),'x3'),
  xaxis5:lx(xd(59,343),'y5',-0.0215),yaxis5:ly(yd(643,892),'x5'),
  yaxis7:lyMinor('y','x'), yaxis8:lyMinor('y3','x3'), yaxis9:lyMinor('y5','x5'),
  xaxis2:rx(xd(494,792),'y2',0.278), yaxis2:ry(yd(8,272),'x2',-46),
  xaxis4:rx(xd(493,792),'y4',0.281), yaxis4:ry(yd(322,592),'x4',-34),
  xaxis6:rx(xd(493,792),'y6',0.284), yaxis6:ry(yd(650,906),'x6',-24),
  xaxis7:{domain:[0,1],anchor:'y10',range:[0,W],visible:false,fixedrange:true},
  yaxis10:{domain:[0,1],anchor:'x7',range:[H,0],visible:false,fixedrange:true},
  coloraxis: {cmin:3055.3,cmax:3084.3,colorscale:CS,colorbar:cb(343,9,15,263,[3060,3065,3070,3075,3080])},
  coloraxis2:{cmin:1773,cmax:2143,colorscale:CS,colorbar:cb(350,8,328,576,[1800,1850,1900,1950,2000,2050,2100])},
  coloraxis3:{cmin:1384,cmax:1649,colorscale:CS,colorbar:cb(347,10,643,893,[1400,1450,1500,1550,1600])},
  annotations: ann
};
Plotly.newPlot('chart', traces, layout, {displayModeBar:false, staticPlot:true});
</script></body></html>
